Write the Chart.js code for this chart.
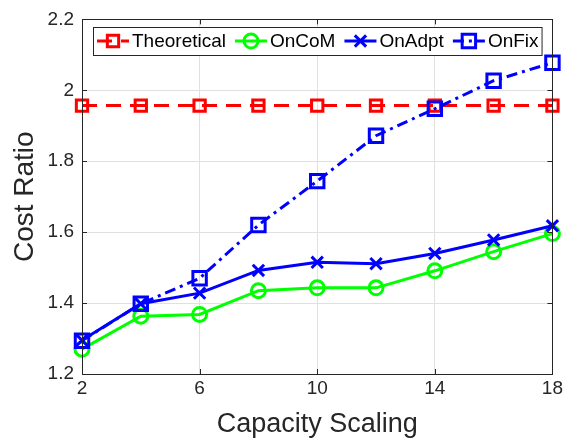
<!DOCTYPE html>
<html>
<head>
<meta charset="utf-8">
<script src="https://cdn.jsdelivr.net/npm/chart.js@4/dist/chart.umd.min.js"></script>
<style>
  html, body { margin: 0; padding: 0; background: #fff; }
  #wrap { width: 566px; height: 443px; }
</style>
</head>
<body>
<div id="wrap"><canvas id="costChart" width="566" height="443"></canvas></div>
<script>
// values
var capacity    = [2, 4, 6, 8, 10, 12, 14, 16, 18];
var theoretical = [1.957, 1.957, 1.957, 1.957, 1.957, 1.957, 1.957, 1.957, 1.957];
var onCoM       = [1.270, 1.363, 1.368, 1.435, 1.443, 1.443, 1.491, 1.545, 1.596];
var onAdpt      = [1.295, 1.398, 1.428, 1.492, 1.515, 1.511, 1.540, 1.578, 1.618];
var onFix       = [1.294, 1.398, 1.470, 1.620, 1.744, 1.872, 1.948, 2.027, 2.078];
var seriesNames = ["Theoretical", "OnCoM", "OnAdpt", "OnFix"];
var xTicks = [2, 6, 10, 14, 18];
var yTicks = [1.2, 1.4, 1.6, 1.8, 2, 2.2];

var FONT = "'Liberation Sans', Arial, Helvetica, sans-serif";
var AXIS_COLOR = "#262626";

function toPoints(values) {
  return capacity.map(function (c, i) { return { x: c, y: values[i] }; });
}

// legend drawn inside the axes box, matlab style
var boxLegend = {
  id: "boxLegend",
  afterDraw: function (chart) {
    var ctx = chart.ctx;
    var sets = chart.data.datasets;
    var left = 93, top = 27, h = 28;
    var cy = top + h / 2;
    ctx.save();
    ctx.font = "19px " + FONT;
    var x = left + 4;
    var items = [];
    for (var i = 0; i < sets.length; i++) {
      var w = ctx.measureText(sets[i].label).width;
      items.push({ ds: sets[i], x: x, w: w });
      x += 35 + w + 9;
    }
    var right = x - 9 + 3;
    ctx.fillStyle = "#fff";
    ctx.fillRect(left, top, right - left, h);
    ctx.strokeStyle = AXIS_COLOR;
    ctx.lineWidth = 1;
    ctx.strokeRect(left + 0.5, top + 0.5, right - left, h);

    items.forEach(function (it) {
      var ds = it.ds;
      ctx.strokeStyle = ds.borderColor;
      ctx.lineWidth = ds.borderWidth;
      ctx.setLineDash(ds.borderDash || []);
      ctx.beginPath();
      ctx.moveTo(it.x, cy);
      ctx.lineTo(it.x + 32, cy);
      ctx.stroke();
      ctx.setLineDash([]);
      ctx.fillStyle = "rgba(0,0,0,0)";
      ctx.strokeStyle = ds.pointBorderColor;
      ctx.lineWidth = ds.pointBorderWidth;
      Chart.helpers.drawPoint(ctx, {
        pointStyle: ds.pointStyle,
        radius: ds.pointRadius,
        borderWidth: ds.pointBorderWidth,
        rotation: 0
      }, it.x + 16, cy);
      ctx.fillStyle = "#000";
      ctx.textBaseline = "middle";
      ctx.textAlign = "left";
      ctx.fillText(ds.label, it.x + 35, cy + 1);
    });
    ctx.restore();
  }
};

// full box around axes plus inward tick marks
var axesBox = {
  id: "axesBox",
  afterDatasetsDraw: function (chart) {
    var a = chart.chartArea;
    var ctx = chart.ctx;
    var xs = chart.scales.x, ys = chart.scales.y;
    ctx.save();
    ctx.strokeStyle = AXIS_COLOR;
    ctx.lineWidth = 1;
    ctx.beginPath();
    xTicks.forEach(function (t) {
      var px = Math.round(xs.getPixelForValue(t)) + 0.5;
      ctx.moveTo(px, a.bottom); ctx.lineTo(px, a.bottom - 5);
      ctx.moveTo(px, a.top); ctx.lineTo(px, a.top + 5);
    });
    yTicks.forEach(function (t) {
      var py = Math.round(ys.getPixelForValue(t)) + 0.5;
      ctx.moveTo(a.left, py); ctx.lineTo(a.left + 5, py);
      ctx.moveTo(a.right, py); ctx.lineTo(a.right - 5, py);
    });
    ctx.stroke();
    ctx.strokeRect(Math.round(a.left) + 0.5, Math.round(a.top) + 0.5,
                   Math.round(a.right - a.left), Math.round(a.bottom - a.top));
    ctx.restore();
  }
};

var chart = new Chart(document.getElementById("costChart"), {
  type: "line",
  data: {
    datasets: [{
      label: seriesNames[0],
      data: toPoints(theoretical),
      borderColor: "#ff0000",
      borderWidth: 3,
      borderDash: [15, 9],
      pointStyle: "rect",
      pointRadius: 8,
      pointBorderWidth: 3,
      pointBorderColor: "#ff0000",
      pointBackgroundColor: "rgba(0,0,0,0)",
      order: 4
    }, {
      label: seriesNames[1],
      data: toPoints(onCoM),
      borderColor: "#00ff00",
      borderWidth: 3,
      pointStyle: "circle",
      pointRadius: 7,
      pointBorderWidth: 3,
      pointBorderColor: "#00ff00",
      pointBackgroundColor: "rgba(0,0,0,0)",
      order: 3
    }, {
      label: seriesNames[2],
      data: toPoints(onAdpt),
      borderColor: "#0000ff",
      borderWidth: 3,
      pointStyle: "crossRot",
      pointRadius: 8,
      pointBorderWidth: 3,
      pointBorderColor: "#0000ff",
      pointBackgroundColor: "rgba(0,0,0,0)",
      order: 2
    }, {
      label: seriesNames[3],
      data: toPoints(onFix),
      borderColor: "#0000ff",
      borderWidth: 3,
      borderDash: [11, 5, 3, 5],
      pointStyle: "rect",
      pointRadius: 9.5,
      pointBorderWidth: 3,
      pointBorderColor: "#0000ff",
      pointBackgroundColor: "rgba(0,0,0,0)",
      order: 1
    }]
  },
  options: {
    responsive: false,
    animation: false,
    events: [],
    layout: { padding: { top: 16, right: 13, left: 0, bottom: 0 } },
    elements: { line: { tension: 0, fill: false } },
    datasets: { line: { clip: false } },
    plugins: {
      legend: { display: false },
      tooltip: { enabled: false }
    },
    scales: {
      x: {
        type: "linear",
        min: 2,
        max: 18,
        afterBuildTicks: function (scale) {
          scale.ticks = xTicks.map(function (v) { return { value: v }; });
        },
        afterFit: function (scale) { scale.height = 69; },
        grid: { color: "#e0e0e0", drawTicks: false, lineWidth: 1 },
        border: { display: false },
        ticks: {
          color: AXIS_COLOR,
          padding: 3,
          maxRotation: 0,
          font: { family: FONT, size: 19 }
        },
        title: {
          display: true,
          text: "Capacity Scaling",
          color: AXIS_COLOR,
          font: { family: FONT, size: 27 },
          padding: { top: 0, bottom: 2 }
        }
      },
      y: {
        type: "linear",
        min: 1.2,
        max: 2.2,
        afterBuildTicks: function (scale) {
          scale.ticks = yTicks.map(function (v) { return { value: v }; });
        },
        afterFit: function (scale) { scale.width = 82; },
        grid: { color: "#e0e0e0", drawTicks: false, lineWidth: 1 },
        border: { display: false },
        ticks: {
          color: AXIS_COLOR,
          padding: 8,
          font: { family: FONT, size: 19 },
          callback: function (v) { return String(Number(v.toFixed(1))); }
        },
        title: {
          display: true,
          text: "Cost Ratio",
          color: AXIS_COLOR,
          font: { family: FONT, size: 28 },
          padding: { top: 8, bottom: 0 }
        }
      }
    }
  },
  plugins: [axesBox, boxLegend]
});
</script>
</body>
</html>
